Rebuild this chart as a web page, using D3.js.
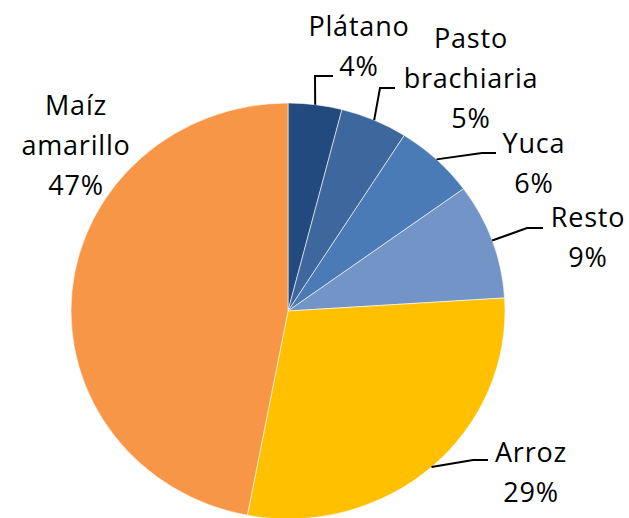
<!DOCTYPE html>
<html lang="es">
    <head>
        <meta charset="utf-8">
        <title>Cultivos</title>
        <script type="text/javascript" src="https://cdn.jsdelivr.net/npm/d3@7"></script>
        <style>
        body{
            margin:0;
            background-color:white;
        }
        text{
            font-family:"Open Sans", sans-serif;
            font-size:27px;
            letter-spacing:0.8px;
            fill:black;
        }
        </style>
    </head>
    <body>
        <script type="text/javascript">

        let w = 629;
        let h = 518;

        // data, clockwise from 12 o'clock
        let categories = ["Plátano", "Pasto brachiaria", "Yuca", "Resto", "Arroz", "Maíz amarillo"];
        let values = [4, 5, 6, 9, 29, 47];
        let labelLines = [["Plátano"], ["Pasto", "brachiaria"], ["Yuca"], ["Resto"], ["Arroz"], ["Maíz", "amarillo"]];
        let colors = ["#234a7e", "#3e679d", "#4a7bb7", "#7394c6", "#ffc000", "#f79646"];

        // where each label sits: text centre x, first baseline y, leader elbow and end
        let labelLayout = [
            {tx:359, ty:36, elbow:[315,76], end:[333,76]},
            {tx:471, ty:48, elbow:[380,88], end:[395,88]},
            {tx:534, ty:153, elbow:[482,153], end:[496,153]},
            {tx:588, ty:227, elbow:[527,228], end:[543,228]},
            {tx:531, ty:462, elbow:[473,460], end:[488,460]},
            {tx:76, ty:115, elbow:null, end:null}
        ];

        let cx = 288, cy = 311;
        let rx = 217, ry = 208;
        let lineGap = 40;

        var svg = d3.select("body")
                    .append("svg")
                    .attr("width", w)
                    .attr("height", h);

        var pie = d3.pie().sort(null).value(function(d){ return d; });
        var arcs = pie(values);

        var arc = d3.arc().innerRadius(0).outerRadius(rx);

        //pie squashed a little, like the original
        var g = svg.append("g")
                   .attr("transform", "translate(" + cx + "," + cy + ") scale(1," + (ry/rx) + ")");

        g.selectAll("path")
         .data(arcs)
         .enter()
         .append("path")
         .attr("d", arc)
         .attr("fill", function(d,i){ return colors[i]; })
         .attr("stroke", "white")
         .attr("stroke-width", 0.6);

        //leader lines start on the rim at the middle of each slice
        arcs.forEach(function(d,i){
            let L = labelLayout[i];
            if(L.elbow){
                let mid = (d.startAngle + d.endAngle)/2;
                let sx = cx + rx*Math.sin(mid);
                let sy = cy - ry*Math.cos(mid);
                svg.append("polyline")
                   .attr("points", [[sx,sy], L.elbow, L.end].map(function(p){ return p.join(","); }).join(" "))
                   .attr("fill", "none")
                   .attr("stroke", "black")
                   .attr("stroke-width", 2);
            }
            let t = svg.append("text")
                       .attr("text-anchor", "middle");
            let lines = labelLines[i].concat([values[i] + "%"]);
            lines.forEach(function(s,j){
                t.append("tspan")
                 .attr("x", L.tx)
                 .attr("y", L.ty + j*lineGap)
                 .text(s);
            });
        });

        </script>
    </body>
</html>
